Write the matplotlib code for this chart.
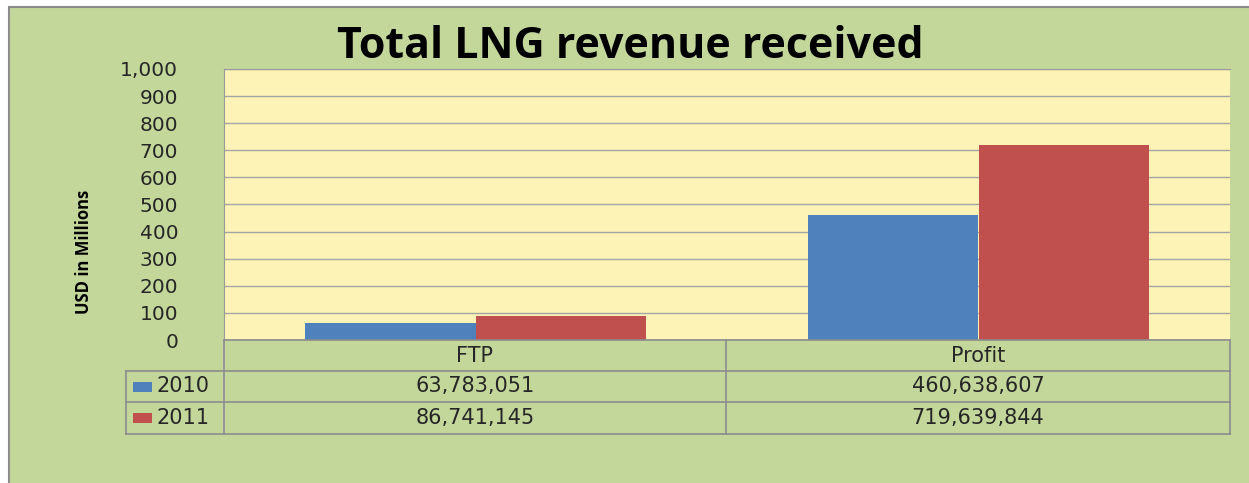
import matplotlib
matplotlib.use("Agg")
import matplotlib.pyplot as plt
from matplotlib.patches import Rectangle
import numpy as np

# data
categories = ["FTP", "Profit"]
years = ["2010", "2011"]
rev_2010 = [63783051, 460638607]
rev_2011 = [86741145, 719639844]
colors = ["#4f81bd", "#c0504d"]

W, H = 1249, 483
fig = plt.figure(figsize=(W / 100, H / 100), dpi=100, facecolor="white")

def fx(px):
    return px / W

def fy(py):
    return 1 - py / H

# green chart area with grey border
bg = fig.add_axes([0, 0, 1, 1], zorder=-5)
bg.set_xlim(0, W)
bg.set_ylim(H, 0)
bg.axis("off")
bg.add_patch(Rectangle((9, 7), W, H, facecolor="#c4d79b", edgecolor="#8c8c8c", lw=1.5))

ax = fig.add_axes([fx(224), fy(340), fx(1230) - fx(224), fy(69) - fy(340)])
ax.set_facecolor("#fef3b6")

x = np.arange(len(categories))
w = 0.338
vals = [np.array(rev_2010) / 1e6, np.array(rev_2011) / 1e6]
for i in range(2):
    ax.bar(x + (i - 0.5) * w, vals[i], width=w, color=colors[i], zorder=3)

ax.set_xlim(-0.5, 1.5)
ax.set_ylim(0, 1000)
ax.set_yticks(range(0, 1001, 100))
ax.set_yticklabels(["{:,}".format(v) for v in range(0, 1001, 100)],
                   fontsize=14.5, color="#262626", family="DejaVu Sans")
ax.tick_params(axis="y", length=0, pad=33)
ax.set_xticks([])
ax.yaxis.grid(True, color="#a3a3a3", lw=1, zorder=1)
for s in ["right", "bottom"]:
    ax.spines[s].set_visible(False)
for s in ["left", "top"]:
    ax.spines[s].set_color("#999999")

fig.text(fx(84), fy(252), "USD in Millions", rotation=90, ha="center", va="center",
         fontsize=12, fontweight="bold", family="Open Sans")

fig.text(fx(630), fy(47), "Total LNG revenue received", ha="center", va="center",
         fontsize=31, fontweight="bold", family="Open Sans")

# data table
tax = fig.add_axes([0, 0, 1, 1], facecolor="none")
tax.set_xlim(0, W)
tax.set_ylim(H, 0)
tax.axis("off")
lc = "#8c8c8c"
col_x = [224, 726, 1230]
rows_y = [340, 371, 402, 434]
tax.plot([224, 1230], [340, 340], color=lc, lw=1.2)
for yy in rows_y[1:]:
    tax.plot([126, 1230], [yy, yy], color=lc, lw=1.2)
for xx in col_x:
    tax.plot([xx, xx], [340, 434], color=lc, lw=1.2)
tax.plot([126, 126], [371, 434], color=lc, lw=1.2)

fs = 15
for j, cat in enumerate(categories):
    cx = (col_x[j] + col_x[j + 1]) / 2
    tax.text(cx, 355.5, cat, ha="center", va="center", fontsize=fs, color="#262626")
    for i, series in enumerate([rev_2010, rev_2011]):
        cy = (rows_y[i + 1] + rows_y[i + 2]) / 2
        tax.text(cx, cy, "{:,}".format(series[j]), ha="center", va="center",
                 fontsize=fs, color="#262626")

for i, yr in enumerate(years):
    cy = (rows_y[i + 1] + rows_y[i + 2]) / 2
    tax.add_patch(Rectangle((133, cy - 5), 19, 10, facecolor=colors[i], edgecolor="none"))
    tax.text(157, cy, yr, ha="left", va="center", fontsize=fs, color="#262626")

fig.savefig("out.png", dpi=100, facecolor=fig.get_facecolor())
